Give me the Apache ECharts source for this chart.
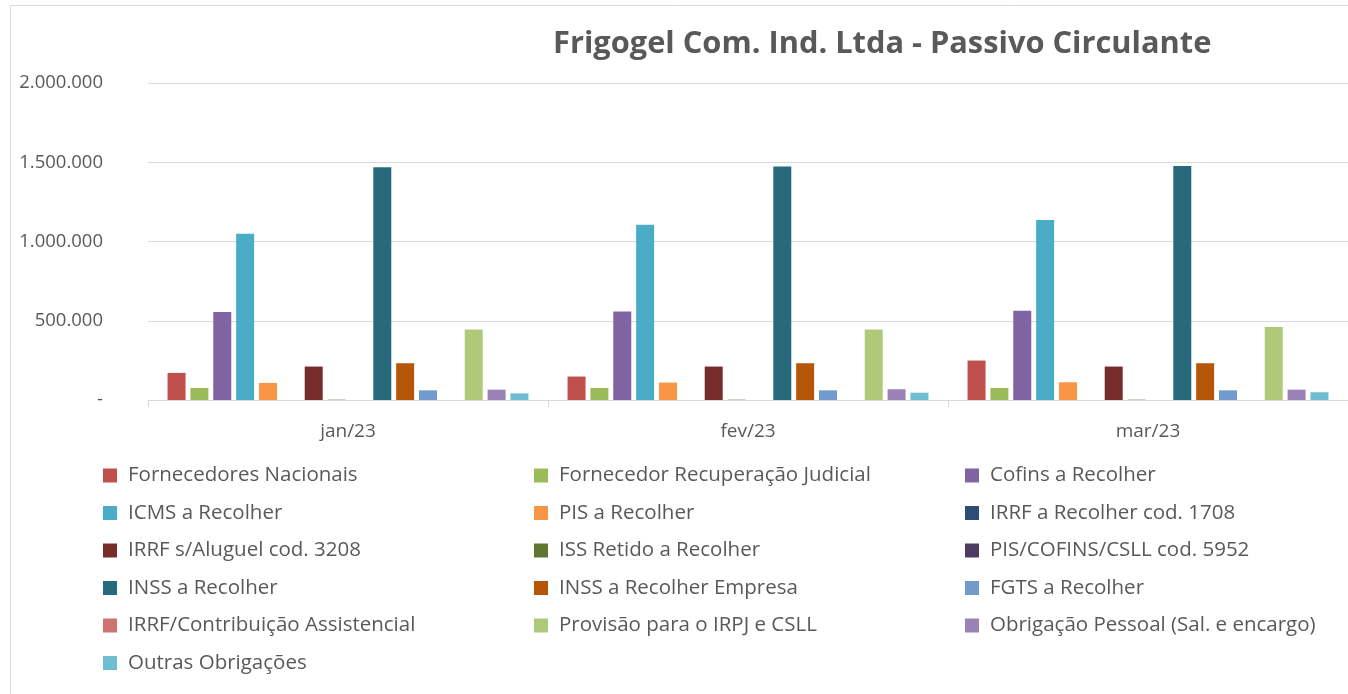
<!DOCTYPE html>
<html>
<head>
<meta charset="utf-8">
<script src="https://cdn.jsdelivr.net/npm/echarts@6/dist/echarts.min.js"></script>
<style>
  html, body { margin: 0; padding: 0; background: #fff; }
  #chart { width: 1348px; height: 694px; }
</style>
</head>
<body>
<div id="chart"></div>
<script>

var months = ['jan/23', 'fev/23', 'mar/23'];

var seriesNames = [
    'Fornecedores Nacionais', 'Fornecedor Recuperação Judicial', 'Cofins a Recolher',
    'ICMS a Recolher', 'PIS a Recolher', 'IRRF a Recolher cod. 1708',
    'IRRF s/Aluguel cod. 3208', 'ISS Retido a Recolher', 'PIS/COFINS/CSLL cod. 5952',
    'INSS a Recolher', 'INSS a Recolher Empresa', 'FGTS a Recolher',
    'IRRF/Contribuição Assistencial', 'Provisão para o IRPJ e CSLL', 'Obrigação Pessoal (Sal. e encargo)',
    'Outras Obrigações'
];

var seriesColors = [
    '#C0504D', '#9BBB59', '#8064A2', '#4BACC6', '#F79646', '#2C4D75',
    '#772C2A', '#5F7530', '#4D3B62', '#276A7C', '#B65708', '#729ACA',
    '#CD7371', '#AFC97A', '#9983B5', '#6FBDD1'
];

// values per month (jan, fev, mar)
var fornecedoresNacionais = [171000, 148000, 249000];
var fornecedorRJ = [76000, 76000, 76000];
var cofins = [555000, 559000, 563000];
var icms = [1049000, 1106000, 1135000];
var pis = [108000, 110000, 112000];
var irrf1708 = [0, 0, 0];
var irrfAluguel = [211000, 211000, 211000];
var issRetido = [2000, 2000, 2000];
var pisCofinsCsll = [0, 0, 0];
var inss = [1469000, 1473000, 1477000];
var inssEmpresa = [232000, 232000, 232000];
var fgts = [61000, 61000, 61000];
var irrfContrib = [0, 0, 0];
var provisaoIrpj = [445000, 445000, 460000];
var obrigacaoPessoal = [65000, 68000, 65000];
var outrasObrigacoes = [42000, 46000, 49000];

var seriesValues = [
    fornecedoresNacionais, fornecedorRJ, cofins, icms, pis, irrf1708,
    irrfAluguel, issRetido, pisCofinsCsll, inss, inssEmpresa, fgts,
    irrfContrib, provisaoIrpj, obrigacaoPessoal, outrasObrigacoes
];

var yTicks = [0, 500000, 1000000, 1500000, 2000000];

var fontName = '"Open Sans", "Noto Sans", sans-serif';
var textGrey = '#595959';

// 1234567 -> 1.234.567, 0 -> '-'
const formatThousands = function(v) {
    if (v === 0) return '-';
    return String(v).replace(/\B(?=(\d{3})+(?!\d))/g, '.');
}

var series = seriesNames.map(function(name, i) {
    return {
        name: name,
        type: 'bar',
        data: seriesValues[i],
        barWidth: 18,
        barGap: '27%',
        itemStyle: { color: seriesColors[i] },
        emphasis: { disabled: true }
    };
});

// legend laid out row by row in 3 columns, like the original
var legendColumns = [[], [], []];
seriesNames.forEach(function(name, i) {
    legendColumns[i % 3].push(name);
});
var legendLefts = [98, 529, 960];
var legends = legendColumns.map(function(names, c) {
    return {
        data: names,
        orient: 'vertical',
        left: legendLefts[c],
        top: 460,
        itemWidth: 14,
        itemHeight: 14,
        itemGap: 16.5,
        icon: 'rect',
        selectedMode: false,
        textStyle: {
            color: textGrey,
            fontFamily: fontName,
            fontSize: 20.5,
            lineHeight: 20,
            padding: [0, 0, 0, 6]
        }
    };
});

var chart = echarts.init(document.getElementById('chart'), null, { renderer: 'canvas' });

chart.setOption({
    animation: false,
    backgroundColor: '#ffffff',
    title: {
        text: 'Frigogel Com. Ind. Ltda - Passivo Circulante',
        left: 548,
        top: 24,
        textStyle: {
            color: textGrey,
            fontFamily: fontName,
            fontWeight: 'bold',
            fontSize: 30.8
        }
    },
    graphic: [{
        type: 'rect',
        shape: { x: 10.5, y: 5.5, width: 1345, height: 700 },
        style: { fill: 'none', stroke: '#d9d9d9', lineWidth: 1 },
        silent: true
    }],
    legend: legends,
    grid: {
        left: 148,
        top: 83,
        width: 1212,
        bottom: 294
    },
    xAxis: {
        type: 'category',
        data: months,
        axisLine: { lineStyle: { color: '#d9d9d9', width: 1 } },
        axisTick: { show: true, length: 7, lineStyle: { color: '#d9d9d9' } },
        axisLabel: {
            color: textGrey,
            fontFamily: fontName,
            fontSize: 19,
            margin: 22
        }
    },
    yAxis: {
        type: 'value',
        min: yTicks[0],
        max: yTicks[yTicks.length - 1],
        interval: yTicks[1] - yTicks[0],
        axisLine: { show: false },
        axisTick: { show: false },
        splitLine: { lineStyle: { color: '#d9d9d9', width: 1 } },
        axisLabel: {
            color: textGrey,
            fontFamily: fontName,
            fontSize: 18.5,
            margin: 45,
            formatter: formatThousands
        }
    },
    series: series
});
</script>
</body>
</html>
